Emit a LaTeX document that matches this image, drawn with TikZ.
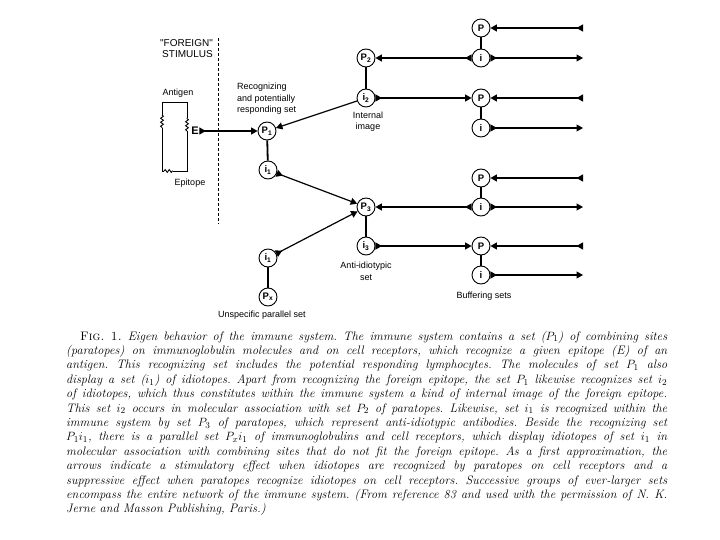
\documentclass[tikz,border=0pt]{standalone}
\usepackage{fontspec}
\usetikzlibrary{arrows.meta,decorations.pathmorphing}
\newfontfamily\lab{Liberation Sans}
\tikzset{
  circ/.style={circle,draw,line width=0.9pt,minimum size=18pt,inner sep=0pt,font=\lab\bfseries\fontsize{9.5}{10}\selectfont},
  lbl/.style={font=\lab\fontsize{9}{10}\selectfont,inner sep=0pt},
  link/.style={line width=1.2pt,{Triangle[reversed,length=6.5pt,width=7pt]}-{Triangle[length=6.5pt,width=7pt]}},
  half/.style={line width=1.2pt,-{Triangle[length=6.5pt,width=7pt]}},
  stem/.style={line width=1.8pt},
  capline/.style={anchor=base west,inner sep=0pt,font=\fontsize{12.3}{14}\selectfont\itshape\frenchspacing},
  wig/.style={decorate,decoration={snake,amplitude=1.4pt,segment length=4pt}}
}
\newcommand{\sub}[1]{\textsubscript{#1}}
\begin{document}
\begin{tikzpicture}[x=1pt,y=-1pt]
\useasboundingbox (0,0) rectangle (720,540);
% dashed boundary
\draw[line width=0.9pt,dash pattern=on 3pt off 2pt] (218,38) -- (218,224);
\node[lbl,font=\lab\fontsize{10}{10}\selectfont,anchor=east] at (213,43) {"FOREIGN"};
\node[lbl,font=\lab\fontsize{10}{10}\selectfont,anchor=east] at (213,54) {STIMULUS};
% antigen
\node[lbl] (ag) at (178,93) {Antigen};
\draw[line width=0.9pt] (173,171) -- (187,171) -- (187,131);
\draw[line width=0.9pt,wig] (187,131) -- (187,118);
\draw[line width=0.9pt] (187,118) -- (187,102) -- (162,102) -- (162,115);
\draw[line width=0.9pt,wig] (162,115) -- (162,128);
\draw[line width=0.9pt] (162,128) -- (162,171) -- (164,171);
\draw[line width=0.9pt,wig] (164,171) -- (173,171);
\node[lbl] (ep) at (190,183) {Epitope};
\node[font=\lab\bfseries\fontsize{11}{12}\selectfont,inner sep=0.5pt] (E) at (195,131) {E};
% main nodes
\node[circ] (P1) at (267,131) {P\sub{1}};
\node[circ] (i1) at (268,170) {i\sub{1}};
\node[circ] (P2) at (366,58) {P\sub{2}};
\node[circ] (i2) at (366,98) {i\sub{2}};
\node[circ] (P3) at (366,207) {P\sub{3}};
\node[circ] (i3) at (366,246) {i\sub{3}};
\node[circ] (i1b) at (268,258) {i\sub{1}};
\node[circ] (Px) at (268,297) {P\sub{x}};
% buffering nodes
\foreach \n/\y/\t in {bP1/28/P,bi1/58/i,bP2/98/P,bi2/128/i,bP3/178/P,bi3/207/i,bP4/246/P,bi4/275/i}{
  \node[circ] (\n) at (481,\y) {\t};
}
\foreach \n/\y in {r1/28,r2/58,r3/98,r4/128,r5/178,r6/207,r7/246,r8/275}{
  \coordinate (\n) at (583,\y);
}
% stems
\draw[stem] (P1) -- (i1);
\draw[stem] (P2) -- (i2);
\draw[stem] (P3) -- (i3);
\draw[stem] (i1b) -- (Px);
\draw[stem] (bP1) -- (bi1);
\draw[stem] (bP2) -- (bi2);
\draw[stem] (bP3) -- (bi3);
\draw[stem] (bP4) -- (bi4);
% links
\draw[link] (E) -- (P1);
\draw[half] (i2) -- (P1);
\draw[link] (i1) -- (P3);
\draw[link] (i1b) -- (P3);
\draw[link] (i2) -- (bP2);
\draw[link] (i3) -- (bP4);
\draw[link] (bi1) -- (P2);
\draw[link] (bi3) -- (P3);
\draw[link] (r1) -- (bP1);
\draw[link] (bi1) -- (r2);
\draw[link] (r3) -- (bP2);
\draw[link] (bi2) -- (r4);
\draw[link] (r5) -- (bP3);
\draw[link] (bi3) -- (r6);
\draw[link] (r7) -- (bP4);
\draw[link] (bi4) -- (r8);
% labels
\node[lbl,align=left,anchor=west,font=\lab\fontsize{9}{11.5}\selectfont] at (237,99) {Recognizing\\and potentially\\responding set};
\node[lbl,align=center,font=\lab\fontsize{9}{11}\selectfont] at (368,121.5) {Internal\\image};
\node[lbl,align=center,font=\lab\fontsize{9}{12}\selectfont] at (366,271) {Anti-idiotypic\\set};
\node[lbl] at (484,296) {Buffering sets};
\node[lbl] at (262,315) {Unspecific parallel set};
% caption
\def\W{601}
\node[capline] at (80,340) {\makebox[587pt][s]{{\upshape\textsc{Fig. 1.}} Eigen behavior of the immune system. The immune system contains a set ($P_1$) of combining sites}};
\node[capline] at (66,354.4) {\makebox[\W pt][s]{(paratopes) on immunoglobulin molecules and on cell receptors, which recognize a given epitope (E) of an}};
\node[capline] at (66,368.8) {\makebox[\W pt][s]{antigen. This recognizing set includes the potential responding lymphocytes. The molecules of set $P_1$ also}};
\node[capline] at (66,383.2) {\makebox[\W pt][s]{display a set ($i_1$) of idiotopes. Apart from recognizing the foreign epitope, the set $P_1$ likewise recognizes set $i_2$}};
\node[capline] at (66,397.6) {\makebox[\W pt][s]{of idiotopes, which thus constitutes within the immune system a kind of internal image of the foreign epitope.}};
\node[capline] at (66,412.0) {\makebox[\W pt][s]{This set $i_2$ occurs in molecular association with set $P_2$ of paratopes. Likewise, set $i_1$ is recognized within the}};
\node[capline] at (66,426.4) {\makebox[\W pt][s]{immune system by set $P_3$ of paratopes, which represent anti-idiotypic antibodies. Beside the recognizing set}};
\node[capline] at (66,440.8) {\makebox[\W pt][s]{$P_1i_1$, there is a parallel set $P_xi_1$ of immunoglobulins and cell receptors, which display idiotopes of set $i_1$ in}};
\node[capline] at (66,455.2) {\makebox[\W pt][s]{molecular association with combining sites that do not fit the foreign epitope. As a first approximation, the}};
\node[capline] at (66,469.6) {\makebox[\W pt][s]{arrows indicate a stimulatory effect when idiotopes are recognized by paratopes on cell receptors and a}};
\node[capline] at (66,484.0) {\makebox[\W pt][s]{suppressive effect when paratopes recognize idiotopes on cell receptors. Successive groups of ever-larger sets}};
\node[capline] at (66,498.4) {\makebox[\W pt][s]{encompass the entire network of the immune system. (From reference 83 and used with the permission of N. K.}};
\node[capline] at (66,512.8) {Jerne and Masson Publishing, Paris.)};
\end{tikzpicture}
\end{document}
